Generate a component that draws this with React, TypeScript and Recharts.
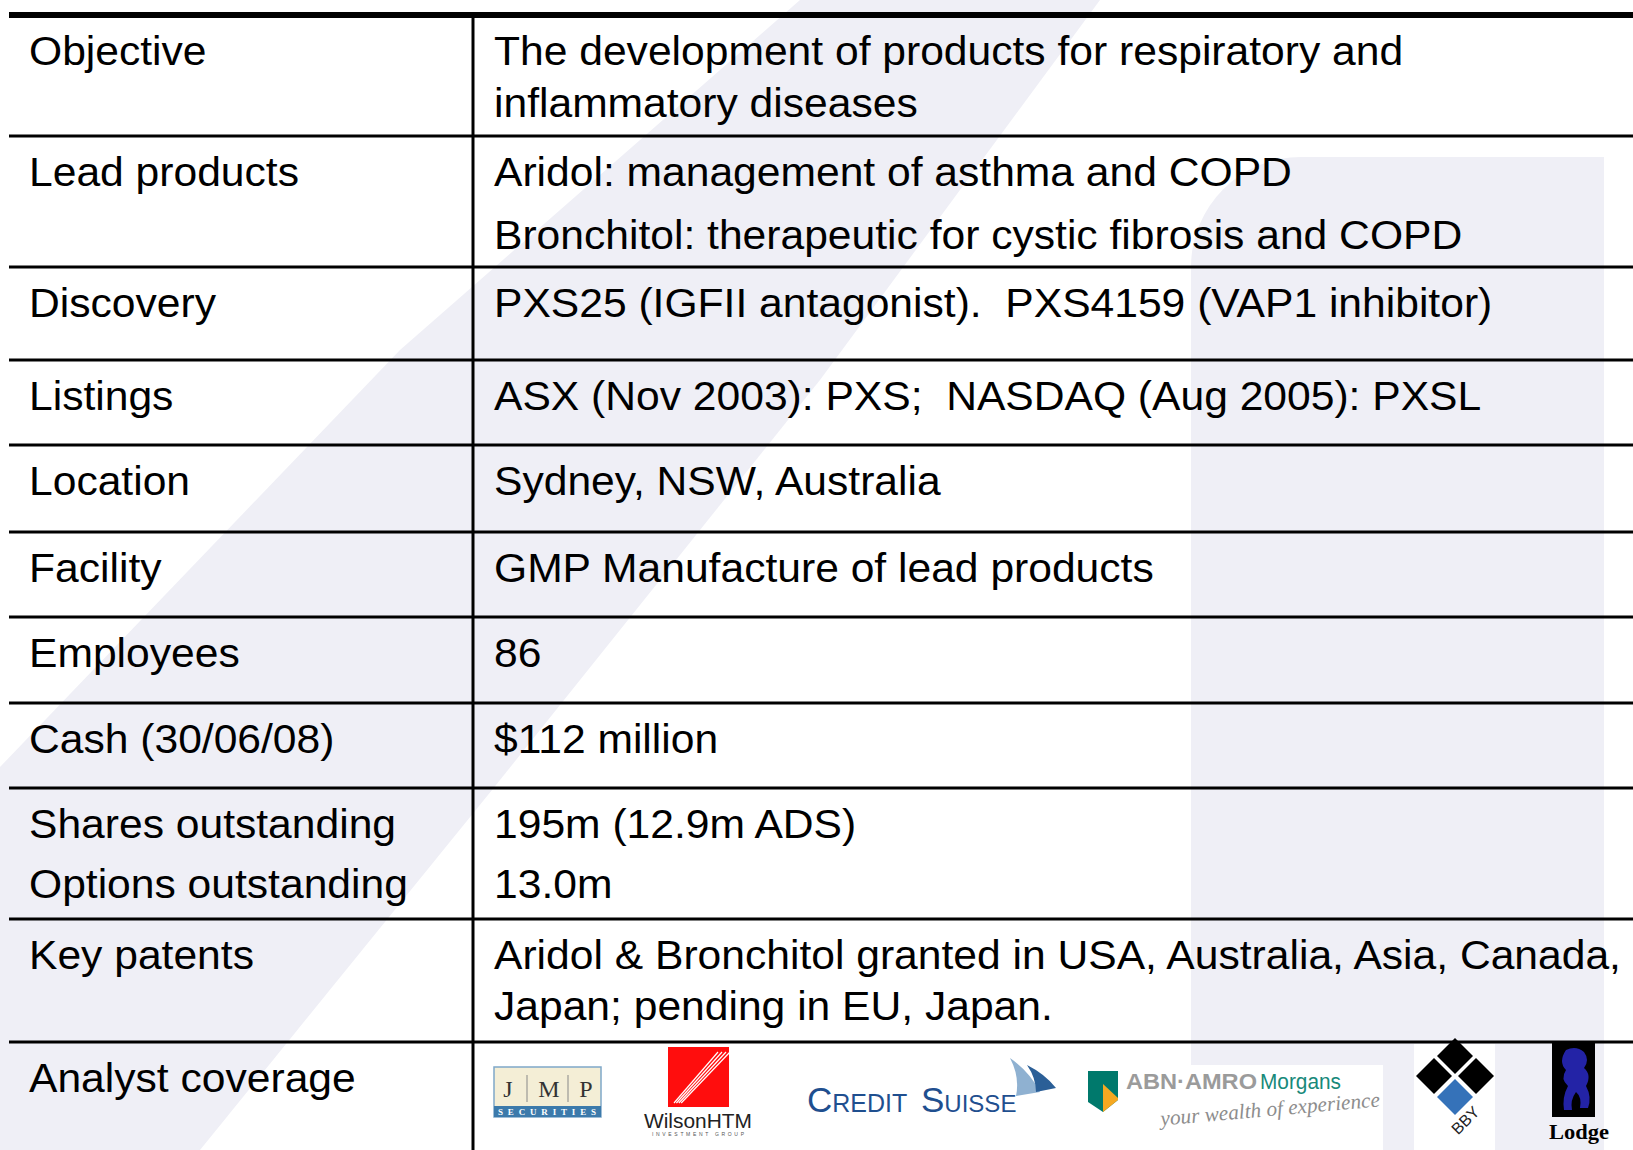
import React from "react";
import { ComposedChart, Scatter, XAxis, YAxis } from "recharts";

// table content
const rowLabels: string[][] = [
  ["Objective"],
  ["Lead products"],
  ["Discovery"],
  ["Listings"],
  ["Location"],
  ["Facility"],
  ["Employees"],
  ["Cash (30/06/08)"],
  ["Shares outstanding", "Options outstanding"],
  ["Key patents"],
  ["Analyst coverage"],
];

const rowDetails: string[][] = [
  ["The development of products for respiratory and", "inflammatory diseases"],
  ["Aridol: management of asthma and COPD", "Bronchitol: therapeutic for cystic fibrosis and COPD"],
  ["PXS25 (IGFII antagonist).  PXS4159 (VAP1 inhibitor)"],
  ["ASX (Nov 2003): PXS;  NASDAQ (Aug 2005): PXSL"],
  ["Sydney, NSW, Australia"],
  ["GMP Manufacture of lead products"],
  ["86"],
  ["$112 million"],
  ["195m (12.9m ADS)", "13.0m"],
  ["Aridol & Bronchitol granted in USA, Australia, Asia, Canada,", "Japan; pending in EU, Japan."],
  [],
];

const coverage = ["JMP Securities", "Wilson HTM", "Credit Suisse", "ABN AMRO Morgans", "BBY", "Lodge"];

// layout
const W = 1633;
const H = 1150;
const TABLE_TOP = 15;
const rowHeights = [121, 131, 93, 85, 87, 85, 86, 85, 131, 123, 120];
const lineSteps = [52, 63, 0, 0, 0, 0, 0, 0, 60, 51, 0];
const LEFT = 9;
const DIVIDER = 473;
const LABEL_X = 29;
const VALUE_X = 494;
const BASELINE = 50;
const STRETCH = 1.065; // slide text is set a little wide
const FONT = "'Liberation Sans', Arial, sans-serif";
const SERIF = "'Liberation Serif', 'Times New Roman', serif";
const TINT = "#efeff6";

let acc = TABLE_TOP;
const rows = rowLabels.map((label, i) => {
  const r = { x: 0, y: acc, h: rowHeights[i], label, lines: rowDetails[i], step: lineSteps[i], i };
  acc += rowHeights[i];
  return r;
});

function Cell({ x, y, text }: { x: number; y: number; text: string }) {
  return (
    <text
      transform={`translate(${x},${y}) scale(${STRETCH},1)`}
      x={0}
      y={0}
      fontFamily={FONT}
      fontSize={40}
      fill="#000"
      style={{ whiteSpace: "pre" }}
    >
      {text}
    </text>
  );
}

function Logos({ x, y }: { x: number; y: number }) {
  return (
    <g transform={`translate(${x},${y})`}>
      {/* JMP */}
      <g>
        <title>{coverage[0]}</title>
        <rect x={494} y={25} width={107} height={50} fill="#f4eed6" stroke="#7fa8c9" strokeWidth={1.5} />
        <rect x={494} y={64} width={107} height={11} fill="#3c7aab" />
        <text x={508} y={55} textAnchor="middle" fontFamily={SERIF} fontSize={24} fill="#333">J</text>
        <text x={549} y={55} textAnchor="middle" fontFamily={SERIF} fontSize={24} fill="#333">M</text>
        <text x={586} y={55} textAnchor="middle" fontFamily={SERIF} fontSize={24} fill="#333">P</text>
        <line x1={527} x2={527} y1={33} y2={60} stroke="#888" strokeWidth={1} />
        <line x1={568} x2={568} y1={33} y2={60} stroke="#888" strokeWidth={1} />
        <text x={498} y={73} fontFamily={SERIF} fontSize={9} fontWeight="bold" fill="#fff" textLength={98} lengthAdjust="spacing">
          SECURITIES
        </text>
      </g>
      {/* Wilson HTM */}
      <g>
        <title>{coverage[1]}</title>
        <rect x={668} y={5} width={61} height={60} fill="#ff0d0d" />
        {[0, 4, 8, 12].map((d) => (
          <line key={d} x1={674 + d * 0.6} y1={61} x2={718 + d} y2={10} stroke="#fff" strokeWidth={1.2} />
        ))}
        <text x={644} y={86} fontFamily={FONT} fontSize={21} fill="#222" textLength={108} lengthAdjust="spacingAndGlyphs">
          WilsonHTM
        </text>
        <text x={652} y={94} fontFamily={FONT} fontSize={5} fill="#555" textLength={92} lengthAdjust="spacing">
          INVESTMENT GROUP
        </text>
      </g>
      {/* Credit Suisse */}
      <g>
        <title>{coverage[2]}</title>
        <path d="M1010,16 Q1030,30 1040,50 L1016,54 Q1020,35 1010,16 Z" fill="#8fb1d1" />
        <path d="M1027,23 Q1045,32 1056,46 L1036,50 Q1036,36 1027,23 Z" fill="#2b5f97" />
        <text x={807} y={70} fontFamily={FONT} fill="#1f4f8f">
          <tspan fontSize={35}>C</tspan>
          <tspan fontSize={25}>REDIT</tspan>
        </text>
        <text x={921} y={70} fontFamily={FONT} fill="#1f4f8f">
          <tspan fontSize={35}>S</tspan>
          <tspan fontSize={24}>UISSE</tspan>
        </text>
      </g>
      {/* ABN AMRO Morgans */}
      <g>
        <title>{coverage[3]}</title>
        <rect x={1190} y={23} width={193} height={90} fill="#fff" />
        <path d="M1088,29 H1118 V58 L1103,70 L1088,60 Z" fill="#00796c" />
        <path d="M1103,42 L1118,56 V58 L1103,70 Z" fill="#f6a821" />
        <text x={1126} y={47} fontFamily={FONT} fontSize={22} fontWeight="bold" fill="#9b9b9b" textLength={131} lengthAdjust="spacingAndGlyphs">
          ABN·AMRO
        </text>
        <text x={1260} y={47} fontFamily={FONT} fontSize={22} fill="#17897a" textLength={81} lengthAdjust="spacingAndGlyphs">
          Morgans
        </text>
        <text
          x={1160}
          y={74}
          fontFamily={SERIF}
          fontStyle="italic"
          fontSize={21}
          fill="#8d8d8d"
          textLength={220}
          lengthAdjust="spacingAndGlyphs"
          transform="rotate(-5 1270 66)"
        >
          your wealth of experience
        </text>
      </g>
      {/* BBY */}
      <g>
        <title>{coverage[4]}</title>
        <rect x={1414} y={2} width={81} height={106} fill="#fff" />
        {[
          [1455, 14, "#000"],
          [1434, 34, "#000"],
          [1476, 34, "#000"],
          [1455, 55, "#3572b9"],
        ].map(([cx, cy, c], k) => (
          <path
            key={k}
            d={`M${cx},${(cy as number) - 18} L${(cx as number) + 18},${cy} L${cx},${(cy as number) + 18} L${(cx as number) - 18},${cy} Z`}
            fill={c as string}
          />
        ))}
        <text
          x={1465}
          y={84}
          textAnchor="middle"
          fontFamily={FONT}
          fontSize={16}
          fill="#222"
          transform="rotate(-45 1465 78)"
        >
          BBY
        </text>
      </g>
      {/* Lodge */}
      <g>
        <title>{coverage[5]}</title>
        <rect x={1552} y={1} width={43} height={74} fill="#000" />
        <path
          d="M1566,8 Q1576,3 1584,10 Q1590,18 1584,26 Q1592,33 1586,44 Q1592,55 1588,66 L1580,66 Q1582,55 1576,50 Q1570,58 1572,68 L1564,68 Q1562,55 1568,44 Q1560,37 1566,28 Q1558,20 1566,8 Z"
          fill="#2323a6"
        />
        <text x={1549} y={97} fontFamily={SERIF} fontSize={22} fontWeight="bold" fill="#000" textLength={60} lengthAdjust="spacingAndGlyphs">
          Lodge
        </text>
      </g>
    </g>
  );
}

function RowShape(props: any) {
  const { cx, cy, payload } = props;
  const first = payload.i === 0;
  const last = payload.i === rows.length - 1;
  return (
    <g>
      {first ? (
        <rect x={cx + LEFT} y={cy - 3} width={W - LEFT} height={6} fill="#000" />
      ) : (
        <line x1={cx + LEFT} x2={W} y1={cy} y2={cy} stroke="#000" strokeWidth={3} />
      )}
      <line x1={cx + DIVIDER} x2={cx + DIVIDER} y1={cy} y2={Math.min(cy + payload.h, H)} stroke="#000" strokeWidth={3} />
      {payload.label.map((t: string, k: number) => (
        <Cell key={`l${k}`} x={cx + LABEL_X} y={cy + BASELINE + k * payload.step} text={t} />
      ))}
      {payload.lines.map((t: string, k: number) => (
        <Cell key={`v${k}`} x={cx + VALUE_X} y={cy + BASELINE + k * payload.step} text={t} />
      ))}
      {last && <Logos x={cx} y={cy} />}
    </g>
  );
}

export default function App() {
  return (
    <div style={{ position: "absolute", left: 0, top: 0, width: W, height: H, background: "#fff", overflow: "hidden" }}>
      <svg width={W} height={H} style={{ position: "absolute", left: 0, top: 0 }}>
        <polygon points="800,0 1100,0 820,380 492,790 200,1150 0,1150 0,767 400,350" fill={TINT} />
        <path d="M1191,1150 V267 A110,110 0 0 1 1301,157 H1604 V1150 Z" fill={TINT} />
      </svg>
      <div style={{ position: "absolute", left: 0, top: 0 }}>
        <ComposedChart width={W} height={H} data={rows} margin={{ top: 0, right: 0, bottom: 0, left: 0 }}>
          <XAxis type="number" dataKey="x" domain={[0, W]} allowDataOverflow hide />
          <YAxis type="number" dataKey="y" domain={[0, H]} allowDataOverflow reversed hide />
          <Scatter dataKey="y" shape={RowShape} isAnimationActive={false} />
        </ComposedChart>
      </div>
    </div>
  );
}
